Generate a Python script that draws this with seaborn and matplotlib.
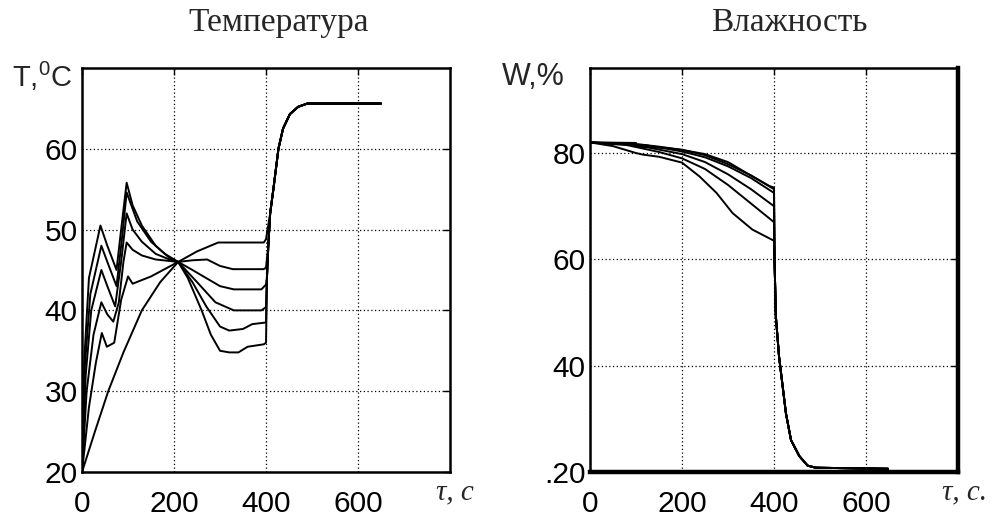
import numpy as np
import pandas as pd
import matplotlib
matplotlib.use('Agg')
import matplotlib.pyplot as plt
import seaborn as sns

sns.set_style('white')
plt.rcParams['font.family'] = ['Liberation Sans', 'DejaVu Sans']
plt.rcParams['mathtext.fontset'] = 'custom'
plt.rcParams['mathtext.rm'] = 'Liberation Sans'

# ---------------- Temperature data (time s, T °C) ----------------
T1_t = [0, 28, 57, 90, 130, 170, 209, 250, 296, 395, 400]
T1_v = [20, 25, 30, 34.8, 40, 43.5, 46, 47.3, 48.4, 48.4, 48.8]
T2_t = [0, 15, 30, 43, 54, 70, 85, 100, 110, 150, 209, 240, 272, 300, 328, 395, 400]
T2_v = [20, 28, 33.5, 37.2, 35.5, 36, 41.3, 44.2, 43.3, 44.2, 46, 46.2, 46.3, 45.5, 45.1, 45.1, 45.3]
T3_t = [0, 10, 25, 42, 55, 68, 80, 90, 97, 110, 130, 160, 209, 240, 270, 300, 330, 390, 400]
T3_v = [20, 30, 37, 41, 39.5, 38.6, 41, 46, 48.4, 47.5, 46.8, 46.3, 46, 45, 44, 43, 42.6, 42.6, 43.2]
T4_t = [0, 8, 20, 42, 55, 72, 85, 97, 110, 130, 160, 190, 209, 250, 290, 330, 390, 400]
T4_v = [20, 32, 40, 45, 43, 40.5, 46, 52, 50, 48.5, 47, 46.3, 46, 43.5, 41, 40, 40, 40.4]
T5_t = [0, 6, 18, 42, 55, 75, 87, 97, 120, 150, 180, 209, 240, 270, 300, 320, 350, 370, 400]
T5_v = [20, 33, 42, 48, 46, 43, 49, 54.6, 51, 48.5, 47, 46, 43.5, 40.5, 38, 37.5, 37.7, 38.3, 38.5]
T6_t = [0, 5, 15, 40, 55, 75, 85, 97, 110, 130, 160, 190, 209, 230, 260, 280, 300, 320, 340, 360, 395, 400]
T6_v = [20, 34, 44, 50.5, 48, 45, 50, 55.8, 53, 50.5, 48, 46.5, 46, 44, 40, 37, 35, 34.8, 34.8, 35.5, 35.8, 36]
T_RISE_t = [402, 405, 409, 416, 427, 437, 452, 470, 490, 650]
T_RISE_v = [44, 48, 52, 55, 60, 62.5, 64.3, 65.2, 65.6, 65.6]

# ---------------- Humidity data (time s, W %) ----------------
W1_t = [0, 100, 101, 160, 200, 250, 300, 310, 353, 390, 400]
W1_v = [82, 81.9, 81.2, 81, 80.6, 79.8, 78.3, 77.8, 75.6, 73.8, 73.5]
W2_t = [0, 120, 200, 250, 300, 350, 400]
W2_v = [82, 81.5, 80.3, 79.2, 77.5, 75.3, 72.5]
W3_t = [0, 100, 200, 250, 300, 350, 400]
W3_v = [82, 81.5, 79.8, 78.3, 76, 73.2, 70]
W4_t = [0, 80, 150, 200, 250, 300, 350, 400]
W4_v = [82, 81.5, 80.2, 79, 77, 74, 70.5, 67]
W5_t = [0, 50, 100, 115, 150, 200, 238, 275, 310, 353, 400]
W5_v = [82, 81.3, 80, 79.7, 79.3, 78.2, 75.6, 72.5, 68.7, 65.6, 63.5]
W6_t = [0, 90, 150, 200, 250, 300, 350, 400]
W6_v = [82, 81.8, 81.2, 80.6, 79.6, 77.9, 75.8, 73.2]
W_DROP_t = [401, 404, 411, 418, 426, 437, 455, 473, 491, 648]
W_DROP_v = [60.6, 49.3, 41.7, 36.7, 31, 26, 23, 21.2, 20.8, 20.6]

T_TICKS = [20, 30, 40, 50, 60]
W_TICKS = [20, 40, 60, 80]
W_TICKLABELS = ['.20', '40', '60', '80']
X_TICKS = [0, 200, 400, 600]


def build(curves, tail_t, tail_v, rising):
    rows = []
    for i, (ts, vs) in enumerate(curves):
        t = list(ts)
        v = list(vs)
        last = v[-1]
        for tt, vv in zip(tail_t, tail_v):
            if (rising and vv > last) or ((not rising) and vv < last):
                t.append(tt)
                v.append(vv)
        rows += [dict(t=a, val=b, curve=i) for a, b in zip(t, v)]
    return pd.DataFrame(rows)


dfT = build([(T1_t, T1_v), (T2_t, T2_v), (T3_t, T3_v), (T4_t, T4_v),
             (T5_t, T5_v), (T6_t, T6_v)], T_RISE_t, T_RISE_v, True)
dfW = build([(W1_t, W1_v), (W2_t, W2_v), (W3_t, W3_v), (W4_t, W4_v),
             (W5_t, W5_v), (W6_t, W6_v)], W_DROP_t, W_DROP_v, False)

fig = plt.figure(figsize=(9.98, 5.19), dpi=100)
ax1 = fig.add_axes([0.0822, 0.0906, 0.3687, 0.7784])
ax2 = fig.add_axes([0.5912, 0.0906, 0.3687, 0.7784])

sns.lineplot(data=dfT, x='t', y='val', units='curve', estimator=None, sort=False,
             color='black', lw=1.4, ax=ax1, legend=False)
sns.lineplot(data=dfW, x='t', y='val', units='curve', estimator=None, sort=False,
             color='black', lw=1.4, ax=ax2, legend=False)

ax1.set_xlim(0, 800)
ax1.set_ylim(20, 70)
ax1.set_yticks(T_TICKS)
ax2.set_xlim(0, 800)
ax2.set_ylim(20, 96)
ax2.set_yticks(W_TICKS)
ax2.set_yticklabels(W_TICKLABELS)

for ax in (ax1, ax2):
    ax.set_xticks(X_TICKS)
    ax.set_xlabel('')
    ax.set_ylabel('')
    ax.grid(True, color='black', linestyle=(0, (1, 2)), linewidth=0.9)
    ax.tick_params(direction='in', length=5, width=1, labelsize=21.5,
                   top=True, right=True, colors='black')
    ax.tick_params(axis='x', pad=13)
    ax.tick_params(axis='y', pad=3)
    for s in ax.spines.values():
        s.set_color('black')
        s.set_linewidth(1.8)
    ax.set_facecolor('white')

ax2.spines['right'].set_linewidth(3.2)
ax2.spines['bottom'].set_linewidth(3.2)

serif = ['Liberation Serif', 'DejaVu Serif']
fig.text(0.279, 0.957, 'Температура', ha='center', va='center', family=serif, fontsize=24)
fig.text(0.791, 0.957, 'Влажность', ha='center', va='center', family=serif, fontsize=24)
fig.text(0.012, 0.852, r'T,$^{0}$C', ha='left', va='center', fontsize=21)
fig.text(0.503, 0.852, 'W,%', ha='left', va='center', fontsize=22)
fig.text(0.456, 0.052, 'τ, с', ha='center', va='center', family=serif,
         style='italic', fontsize=21)
fig.text(0.966, 0.052, 'τ, с.', ha='center', va='center', family=serif,
         style='italic', fontsize=21)

fig.savefig('out.png', dpi=100, facecolor='white')
